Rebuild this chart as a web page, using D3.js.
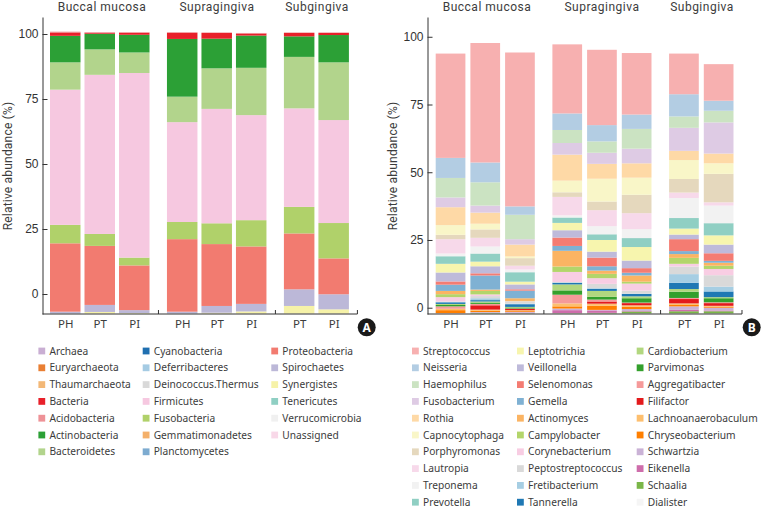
<!DOCTYPE html>
<html>
<head>
<meta charset="utf-8">
<script src="https://cdn.jsdelivr.net/npm/d3@7"></script>
<style>
  body { margin: 0; background: #fff; }
  svg { display: block; }
  text { fill: #3c3c3c; font-family: "Noto Sans", sans-serif; }
  .tick-num text { font-family: "Liberation Sans", sans-serif; font-size: 12px; fill: #333; }
</style>
</head>
<body>
<svg id="chart" width="762" height="509"></svg>
<script>
// site groups and the bars under them
var groups = ['Buccal mucosa', 'Supragingiva', 'Subgingiva'];
var barLabels = ['PH', 'PT', 'PI', 'PH', 'PT', 'PI', 'PT', 'PI'];
var barGroups = [0, 0, 0, 1, 1, 1, 2, 2];
var yTicks = [0, 25, 50, 75, 100];

// Panel A legend, in column order
var phylaLegend = ['Archaea', 'Euryarchaeota', 'Thaumarchaeota', 'Bacteria', 'Acidobacteria', 'Actinobacteria', 'Bacteroidetes',
  'Cyanobacteria', 'Deferribacteres', 'Deinococcus.Thermus', 'Firmicutes', 'Fusobacteria', 'Gemmatimonadetes', 'Planctomycetes',
  'Proteobacteria', 'Spirochaetes', 'Synergistes', 'Tenericutes', 'Verrucomicrobia', 'Unassigned'];
var phylaColors = ['#c9aed3', '#e97f33', '#f3b877', '#e8202a', '#ee9297', '#2ca036', '#b2d48c',
  '#1f6fb0', '#a5cbe3', '#d9d9d9', '#f6c8e0', '#b0d16a', '#f4b06a', '#7dabd0',
  '#f27b70', '#bcb8d8', '#f6f2a8', '#8fcfc3', '#f0f0f0', '#f8d8e8'];

// Panel A stack order, bottom to top
var phylaStack = ['Synergistes', 'Spirochaetes', 'Proteobacteria', 'Fusobacteria', 'Firmicutes', 'Bacteroidetes', 'Actinobacteria', 'Bacteria', 'Acidobacteria'];
var phylaBase = -7.5;
var phylaBM_PH = [0, 0.7, 26.3, 7.1, 52, 10.5, 10.2, 1.3, 0.3];
var phylaBM_PT = [0.6, 2.7, 22.7, 4.6, 61.2, 9.8, 6, 0.4, 0.2];
var phylaBM_PI = [0.2, 1.1, 17.2, 3, 71, 7.9, 6.8, 0.8, 0.2];
var phylaSupra_PH = [0, 0.7, 27.9, 6.6, 38.4, 9.8, 22.2, 2.4, 0.2];
var phylaSupra_PT = [0.3, 2.6, 23.8, 8, 44, 15.6, 11.4, 2.2, 0.2];
var phylaSupra_PI = [0.8, 2.9, 22.1, 10.1, 40.4, 18.2, 12.4, 0.8, 0.2];
var phylaSub_PT = [2.9, 6.4, 21.5, 10.2, 37.9, 19.8, 7.9, 1.3, 0.2];
var phylaSub_PI = [1.6, 5.8, 13.8, 13.6, 39.6, 22.2, 10.5, 0.8, 0.2];

// Panel B genera, top of the stack first (also the legend order)
var genera = ['Streptococcus', 'Neisseria', 'Haemophilus', 'Fusobacterium', 'Rothia', 'Capnocytophaga', 'Porphyromonas', 'Lautropia', 'Treponema', 'Prevotella',
  'Leptotrichia', 'Veillonella', 'Selenomonas', 'Gemella', 'Actinomyces', 'Campylobacter', 'Corynebacterium', 'Peptostreptococcus', 'Fretibacterium', 'Tannerella',
  'Cardiobacterium', 'Parvimonas', 'Aggregatibacter', 'Filifactor', 'Lachnoanaerobaculum', 'Chryseobacterium', 'Schwartzia', 'Eikenella', 'Schaalia', 'Dialister'];
var generaColors = ['#f7b0b0', '#b3cde3', '#cbe3c2', '#decbe4', '#fed9a6', '#f9f6c8', '#e5d8bd', '#f7d9ea', '#f2f2f2', '#90cfc3',
  '#f7f5ae', '#bebada', '#f47c72', '#7fb1d3', '#fbb463', '#b3d56b', '#f8cde3', '#d9d9d9', '#a6cee3', '#1f78b4',
  '#b2d77f', '#33a02c', '#f59a9a', '#e31a1c', '#fdbf6f', '#ff7f00', '#cab2d6', '#ce6dab', '#7ab648', '#f5f5f5'];

var generaBase = -2.1;
var generaBM_PH = [38.5, 7.4, 7.2, 3.6, 6.6, 3.6, 1.6, 5.3, 1, 2.8, 3.2, 3.3, 1.2, 2.3, 1.2, 1.1, 1.6, 0.2, 0.1, 0.6, 0.4, 0.5, 0.9, 0, 0.5, 1.1, 0.1, 0, 0, 0];
var generaBM_PT = [44.1, 7.3, 8.6, 2.6, 4.1, 2.1, 3.1, 3.2, 2.6, 3, 1.7, 2.6, 0.8, 5.2, 0.5, 1.3, 0.6, 0.8, 0.7, 0.5, 0.4, 0.5, 0.5, 1.6, 0.4, 0.5, 0.3, 0, 0.2, 0];
var generaBM_PI = [56.8, 3.1, 9, 2, 4.4, 0.6, 2.8, 1.4, 1, 3.5, 1, 1.8, 0.5, 2.8, 1, 0.1, 0.2, 0.7, 0.2, 1, 0.2, 0.4, 0.1, 0.5, 0.3, 0.3, 0.3, 0.2, 0.1, 0];
var generaSupra_PH = [25.5, 6.1, 4.8, 4.3, 9.6, 4.3, 1.7, 6.8, 0.8, 2, 2.7, 2.7, 3.1, 1.8, 5.8, 2, 3.7, 0.2, 0.1, 0.6, 2.2, 1.6, 3.2, 0, 1.1, 0.8, 0.6, 1.1, 0.1, 0];
var generaSupra_PT = [27.8, 6, 4.2, 4.1, 5.5, 8.4, 3.2, 5.9, 3, 2.1, 4.3, 2.2, 3.2, 1.6, 1.2, 1.6, 2.1, 1.6, 0.2, 0.8, 2.2, 1, 0.7, 0.8, 0.8, 1.5, 0.2, 0.9, 0.2, 0];
var generaSupra_PI = [22.7, 5.3, 7.3, 5.4, 5.3, 6.3, 6.8, 5.9, 3.3, 3.3, 5, 2.8, 1.7, 1, 2.3, 0.7, 2.6, 1.1, 0.1, 0.9, 0.7, 1.6, 0.2, 0.8, 0.5, 0.9, 0.7, 0.2, 0.7, 0];
var generaSub_PT = [15, 8.2, 4.2, 8.5, 3.4, 7, 5, 2, 7.4, 3.9, 2.2, 1.7, 4.4, 1.1, 1.4, 2.2, 1, 2.8, 3.2, 2.3, 1, 2.3, 0.4, 1.6, 0.6, 0.5, 1.3, 0.5, 0.8, 0];
var generaSub_PI = [13.5, 3.7, 4.3, 11.5, 3.6, 3.9, 10.5, 1.2, 6.5, 4.5, 3.4, 3.2, 2.8, 0.7, 1.1, 1.2, 2.3, 4.2, 1.8, 2.1, 0.4, 1.5, 0.3, 1, 0.3, 0.4, 1, 0.3, 0.8, 0];

var svg = d3.select('#chart');

// one panel: stacked bars, axes, group titles, legend, badge
function drawPanel(opt) {
  var g = svg.append('g');

  // bars sit on slots, with a wider gap between site groups
  var x = d3.scaleLinear().domain([0, 1]).range([opt.firstBar, opt.firstBar + opt.step]);
  var slot = function (i) { return i + barGroups[i] * opt.groupGap; };
  var y = d3.scaleLinear().domain(opt.yDomain).range([314, 17]);

  var rows = opt.bars.map(function (vals, i) {
    var row = { index: i };
    opt.keys.forEach(function (k, j) { row[k] = vals[j]; });
    return row;
  });
  var stack = d3.stack().keys(opt.stackKeys)(rows);

  g.selectAll('g.layer')
    .data(stack)
    .enter()
    .append('g')
    .attr('class', 'layer')
    .attr('fill', function (d) { return opt.color(d.key); })
    .selectAll('rect')
    .data(function (d) { return d; })
    .enter()
    .append('rect')
    .attr('x', function (d) { return x(slot(d.data.index)); })
    .attr('width', opt.barWidth)
    .attr('y', function (d) { return y(opt.base + d[1]); })
    .attr('height', function (d) { return y(opt.base + d[0]) - y(opt.base + d[1]); });

  // y axis, ticks point into the plot
  var yAxis = d3.axisLeft(y).tickValues(yTicks).tickSizeInner(-5).tickSizeOuter(0).tickPadding(4);
  var yG = g.append('g')
    .attr('class', 'tick-num')
    .attr('transform', 'translate(' + opt.axisX + ',0)')
    .call(yAxis);
  yG.selectAll('path, line').attr('stroke', '#333');

  // x axis, labels only, separators added below
  var xAxis = d3.axisBottom(x)
    .tickValues(barLabels.map(function (l, i) { return slot(i); }))
    .tickFormat(function (d, i) { return barLabels[i]; })
    .tickSize(0)
    .tickPadding(6);
  var xG = g.append('g')
    .attr('transform', 'translate(' + (opt.barWidth / 2) + ',314)')
    .call(xAxis);
  xG.select('.domain').remove();
  xG.selectAll('text').style('font-size', '11.5px').attr('fill', '#3c3c3c');

  var lastRight = x(slot(barLabels.length - 1)) + opt.barWidth + opt.sepGap;
  g.append('line')
    .attr('x1', opt.axisX).attr('x2', lastRight)
    .attr('y1', 314).attr('y2', 314)
    .attr('stroke', '#333');

  var seps = [x(slot(3)) - opt.sepGap, x(slot(6)) - opt.sepGap, lastRight];
  g.selectAll('line.sep')
    .data(seps)
    .enter()
    .append('line')
    .attr('class', 'sep')
    .attr('x1', function (d) { return d; }).attr('x2', function (d) { return d; })
    .attr('y1', 310).attr('y2', 314)
    .attr('stroke', '#333');

  // site titles
  g.selectAll('text.site')
    .data(groups)
    .enter()
    .append('text')
    .attr('class', 'site')
    .attr('x', function (d, i) { return opt.titleX[i]; })
    .attr('y', 11.3)
    .attr('text-anchor', 'middle')
    .style('font-family', 'Roboto, sans-serif')
    .style('font-size', '12px')
    .style('letter-spacing', '0.5px')
    .text(function (d) { return d; });

  g.append('text')
    .attr('transform', 'translate(' + opt.yTitleX + ',166) rotate(-90)')
    .attr('text-anchor', 'middle')
    .style('font-family', 'Roboto, sans-serif')
    .style('font-size', '12px')
    .style('letter-spacing', '0.2px')
    .text('Relative abundance (%)');

  // legend, filled column by column
  var legend = g.selectAll('g.legend')
    .data(opt.legend)
    .enter()
    .append('g')
    .attr('class', 'legend')
    .attr('transform', function (d, i) {
      var col = Math.floor(i / opt.legendRows);
      return 'translate(' + opt.legendX[col] + ',' + (351 + 16.8 * (i % opt.legendRows)) + ')';
    });
  legend.append('rect')
    .attr('x', 0).attr('y', -3.4)
    .attr('width', 6.8).attr('height', 6.8)
    .attr('fill', function (d) { return opt.color(d); });
  legend.append('text')
    .attr('x', 11)
    .attr('dy', '0.35em')
    .style('font-size', '10.2px')
    .text(function (d) { return d; });

  // panel badge
  g.append('circle').attr('cx', opt.badgeX).attr('cy', 327.3).attr('r', 9).attr('fill', '#1a1a1a');
  g.append('text')
    .attr('x', opt.badgeX).attr('y', 331.6)
    .attr('text-anchor', 'middle')
    .style('font-size', '12px').style('font-weight', 'bold').style('fill', '#fff')
    .text(opt.badge);
}

drawPanel({
  bars: [phylaBM_PH, phylaBM_PT, phylaBM_PI, phylaSupra_PH, phylaSupra_PT, phylaSupra_PI, phylaSub_PT, phylaSub_PI],
  keys: phylaStack,
  stackKeys: phylaStack,
  base: phylaBase,
  color: d3.scaleOrdinal(phylaLegend, phylaColors),
  legend: phylaLegend,
  legendRows: 7,
  legendX: [38.4, 142.7, 271.3],
  firstBar: 50,
  step: 34.5,
  barWidth: 30.5,
  groupGap: 0.39,
  sepGap: 8.5,
  axisX: 42.5,
  yDomain: [-7.69, 106.54],
  titleX: [102, 217, 317],
  yTitleX: 11.5,
  badge: 'A',
  badgeX: 366.7
});

drawPanel({
  bars: [generaBM_PH, generaBM_PT, generaBM_PI, generaSupra_PH, generaSupra_PT, generaSupra_PI, generaSub_PT, generaSub_PI],
  keys: genera,
  stackKeys: genera.slice().reverse(),
  base: generaBase,
  color: d3.scaleOrdinal(genera, generaColors),
  legend: genera,
  legendRows: 10,
  legendX: [412, 517, 636.7],
  firstBar: 435.7,
  step: 34.7,
  barWidth: 29.7,
  groupGap: 0.363,
  sepGap: 8.5,
  axisX: 427.5,
  yDomain: [-2.32, 107.3],
  titleX: [487, 602, 702],
  yTitleX: 397,
  badge: 'B',
  badgeX: 751.7
});
</script>
</body>
</html>
